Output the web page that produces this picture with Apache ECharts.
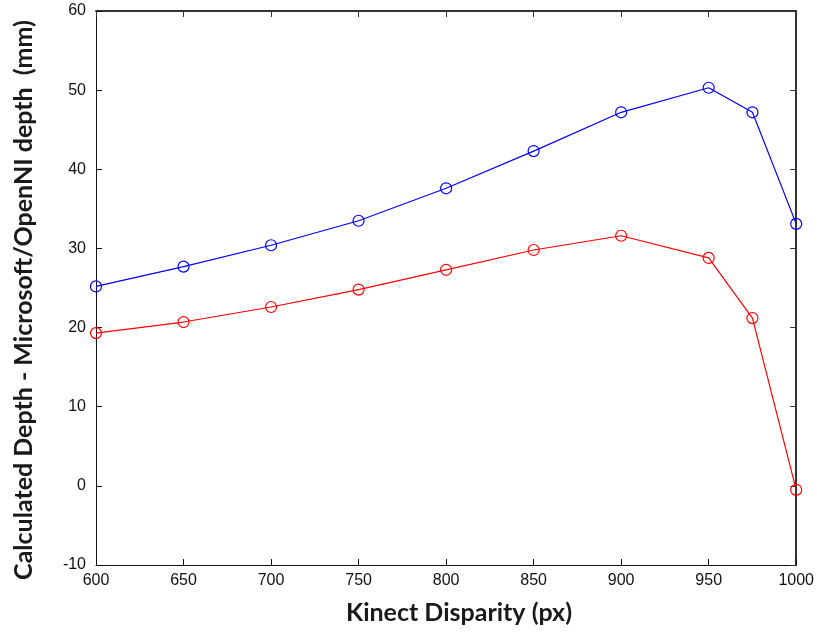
<!DOCTYPE html>
<html>
<head>
<meta charset="utf-8">
<script src="https://cdn.jsdelivr.net/npm/echarts@6/dist/echarts.min.js"></script>
<style>
html,body{margin:0;padding:0;background:#fff;}
#chart{width:817px;height:635px;}
</style>
</head>
<body>
<div id="chart"></div>
<script>
const disparity = [600, 650, 700, 750, 800, 850, 900, 950, 975, 1000];
const blueSeries = [25.2, 27.7, 30.4, 33.5, 37.6, 42.3, 47.2, 50.3, 47.2, 33.1];
const redSeries  = [19.3, 20.7, 22.6, 24.8, 27.3, 29.8, 31.6, 28.8, 21.2, -0.5];
const xTitle = 'Kinect Disparity (px)';
const yTitle = 'Calculated Depth - Microsoft/OpenNI depth  (mm)';

const chart = echarts.init(document.getElementById('chart'));
const labelFont = {fontFamily: 'Liberation Sans, Arial, sans-serif', fontSize: 16, color: '#111'};
const titleFontFamily = 'Lato, Open Sans, sans-serif';

function pairs(ys){ return disparity.map((x,i)=>[x, ys[i]]); }

chart.setOption({
  animation: false,
  backgroundColor: '#fff',
  grid: {left: 96, right: 19, top: 11, bottom: 70, containLabel: false},
  graphic: [{
    type: 'text', x: 459, y: 613,
    style: {text: xTitle, font: 'bold 25px ' + titleFontFamily, fill: '#1a1a1a', align: 'center', verticalAlign: 'middle'}
  }, {
    type: 'text', x: 24, y: 300, rotation: Math.PI / 2,
    style: {text: yTitle, font: 'bold 25px ' + titleFontFamily, fill: '#1a1a1a', align: 'center', verticalAlign: 'middle'}
  }],
  xAxis: [{
    type: 'value', min: 600, max: 1000, interval: 50,
    axisLine: {show: true, onZero: false, lineStyle: {color: '#111', width: 1}},
    axisTick: {show: true, inside: true, length: 6, lineStyle: {color: '#111'}},
    axisLabel: Object.assign({margin: 8, formatter: v => String(v)}, labelFont),
    splitLine: {show: false}
  }, {
    type: 'value', min: 600, max: 1000, interval: 50, position: 'top',
    axisLine: {show: true, onZero: false, lineStyle: {color: '#333', width: 2}},
    axisTick: {show: true, inside: true, length: 6, lineStyle: {color: '#333'}},
    axisLabel: {show: false}, splitLine: {show: false}
  }],
  yAxis: [{
    type: 'value', min: -10, max: 60, interval: 10,
    axisLine: {show: true, onZero: false, lineStyle: {color: '#111', width: 1}},
    axisTick: {show: true, inside: true, length: 6, lineStyle: {color: '#111'}},
    axisLabel: Object.assign({margin: 10}, labelFont),
    splitLine: {show: false}
  }, {
    type: 'value', min: -10, max: 60, interval: 10, position: 'right',
    axisLine: {show: true, onZero: false, lineStyle: {color: '#333', width: 2}},
    axisTick: {show: true, inside: true, length: 6, lineStyle: {color: '#333'}},
    axisLabel: {show: false}, splitLine: {show: false}
  }],
  series: [{
    type: 'line', data: pairs(blueSeries), xAxisIndex: 0, yAxisIndex: 0,
    symbol: 'circle', symbolSize: 11, showAllSymbol: true,
    lineStyle: {color: '#0000ff', width: 1.2},
    itemStyle: {color: 'rgba(0,0,0,0)', borderColor: '#0000ff', borderWidth: 1.2},
    clip: false
  }, {
    type: 'line', data: pairs(redSeries), xAxisIndex: 0, yAxisIndex: 0,
    symbol: 'circle', symbolSize: 11, showAllSymbol: true,
    lineStyle: {color: '#ff0000', width: 1.2},
    itemStyle: {color: 'rgba(0,0,0,0)', borderColor: '#ff0000', borderWidth: 1.2},
    clip: false
  }]
});
</script>
</body>
</html>
